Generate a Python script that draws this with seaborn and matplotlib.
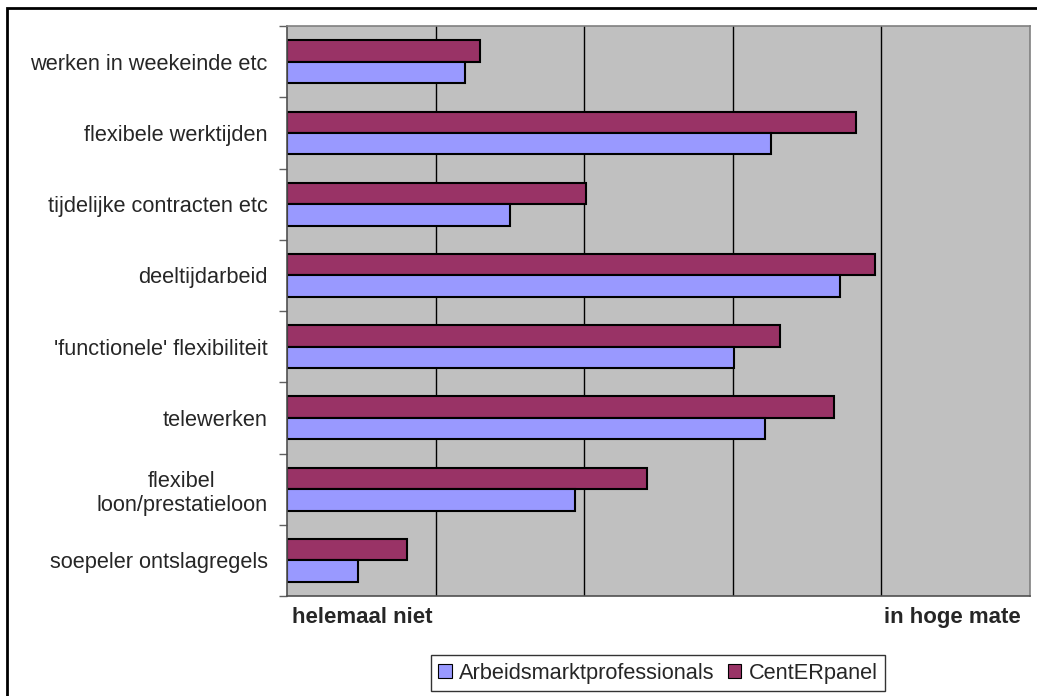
import pandas as pd
import seaborn as sns
import matplotlib.pyplot as plt
from matplotlib.patches import Rectangle, Patch
from matplotlib.transforms import ScaledTranslation

# data (scale 0 = helemaal niet, 5 = in hoge mate)
categories = ['werken in weekeinde etc', 'flexibele werktijden', 'tijdelijke contracten etc',
              'deeltijdarbeid', "'functionele' flexibiliteit", 'telewerken',
              'flexibel\nloon/prestatieloon', 'soepeler ontslagregels']
arbeids = [1.20, 3.26, 1.50, 3.72, 3.01, 3.22, 1.94, 0.48]
center = [1.30, 3.83, 2.01, 3.96, 3.32, 3.68, 2.42, 0.81]
series = ['Arbeidsmarktprofessionals', 'CentERpanel']
colors = {'Arbeidsmarktprofessionals': '#9999FF', 'CentERpanel': '#993366'}

df = pd.DataFrame({
    'cat': categories * 2,
    'value': arbeids + center,
    'series': [series[0]] * len(categories) + [series[1]] * len(categories),
})

sns.set_style('white')
plt.rcParams['font.family'] = ['Liberation Sans', 'DejaVu Sans']

fig = plt.figure(figsize=(10.37, 6.96), dpi=100)
ax = fig.add_axes([287 / 1037, 1 - 596 / 696, (1030 - 287) / 1037, (596 - 26) / 696])

sns.barplot(data=df, y='cat', x='value', hue='series', order=categories,
            hue_order=['CentERpanel', 'Arbeidsmarktprofessionals'], palette=colors,
            saturation=1, orient='h', width=0.6, edgecolor='black', linewidth=1.5,
            legend=False, ax=ax)

ax.set_facecolor('#C0C0C0')
ax.set_xlim(0, 5)
ax.set_ylim(len(categories) - 0.5, -0.5)
ax.set_xlabel('')
ax.set_ylabel('')

# gridlines
ax.set_xticks([1, 2, 3, 4], minor=True)
ax.grid(which='minor', axis='x', color='black', linewidth=1)
ax.grid(which='major', visible=False)
ax.set_axisbelow(True)

# x labels at both ends
ax.set_xticks([0, 5], ['helemaal niet', 'in hoge mate'])
ax.tick_params(axis='x', which='both', length=0, pad=8, labelsize=16)
xl = ax.get_xticklabels()
xl[0].set_ha('left')
xl[1].set_ha('right')
for t, dx in zip(xl, (5, -9)):
    t.set_fontweight('bold')
    t.set_transform(t.get_transform() + ScaledTranslation(dx / 100, 0, fig.dpi_scale_trans))

# category labels and boundary ticks
ax.set_yticks(range(len(categories)), categories)
ax.set_yticks([i - 0.5 for i in range(len(categories) + 1)], minor=True)
ax.tick_params(axis='y', which='major', length=0, pad=14, labelsize=15.7)
ax.tick_params(axis='y', which='minor', length=6, width=1, color='#606060', left=True)
for t in ax.get_yticklabels():
    t.set_multialignment('center')

for s in ['left', 'bottom']:
    ax.spines[s].set_color('#505050')
    ax.spines[s].set_linewidth(1.2)
for s in ['top', 'right']:
    ax.spines[s].set_color('#808080')
    ax.spines[s].set_linewidth(1.2)

# legend
handles = [Patch(facecolor=colors[s], edgecolor='black', linewidth=0.8) for s in series]
fig.legend(handles, series, loc='upper center', bbox_to_anchor=(658 / 1037, 1 - 655 / 696),
           ncol=2, frameon=True, fancybox=False, edgecolor='black', fontsize=15.7,
           handlelength=0.6, handleheight=0.6, handletextpad=0.35, columnspacing=0.6,
           borderpad=0.35, borderaxespad=0)

# outer chart border (only left and top visible)
fig.patches.append(Rectangle((7 / 1037, -0.1), 1.1, 1.1 - 8.5 / 696, transform=fig.transFigure,
                             fill=False, edgecolor='black', linewidth=2))

fig.savefig('out.png', dpi=100)
